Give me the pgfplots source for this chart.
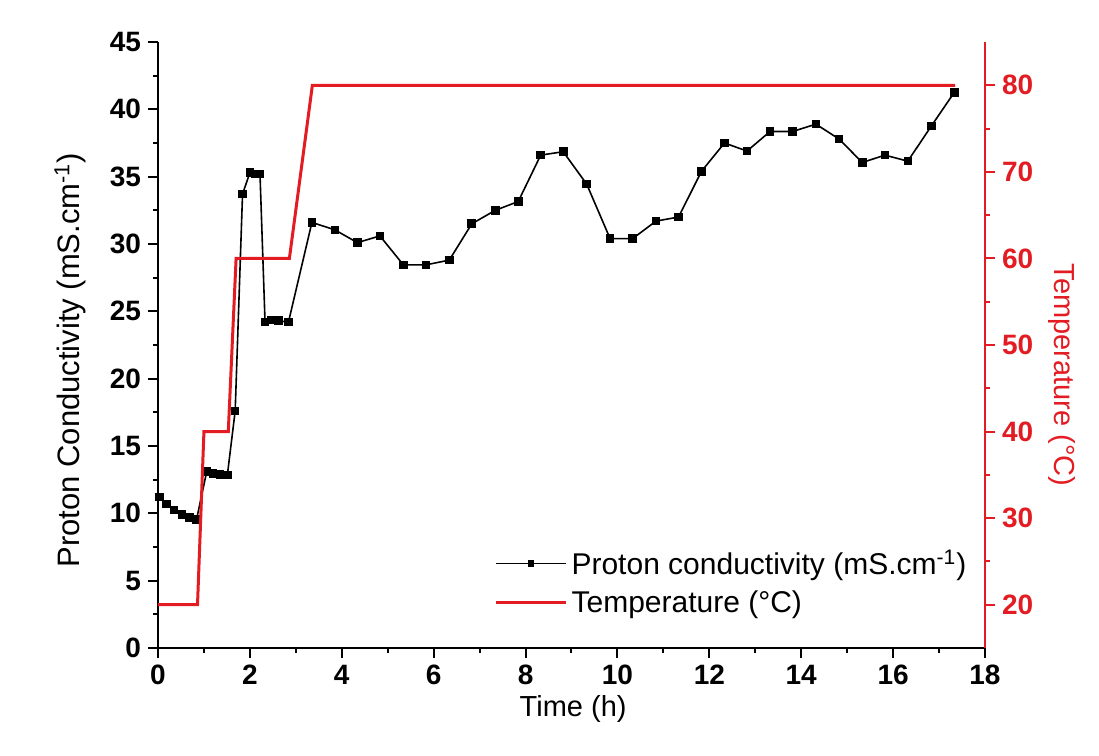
\documentclass[border=0pt]{standalone}
\usepackage{fontspec}
\setmainfont{Liberation Sans}
\usepackage{pgfplots}
\pgfplotsset{compat=1.18}
\definecolor{tred}{RGB}{226,28,34}

\begin{document}
\begin{tikzpicture}
\pgfplotsset{
  every axis/.append style={
    scale only axis, width=413.5pt, height=303pt,
    xmin=0, xmax=18,
    tick align=outside, major tick length=5pt, minor tick length=2.5pt,
    /pgf/number format/assume math mode=true,
    tick label style={font=\fontsize{14}{16}\selectfont\bfseries},
    label style={font=\fontsize{14.5}{17}\selectfont},
    axis line style={line width=1pt},
  },
}
% conductivity
\begin{axis}[name=main,
  axis x line*=bottom, axis y line*=left,
  ymin=0, ymax=45, ytick={0,5,...,45}, xtick={0,2,...,18},
  minor x tick num=1, minor y tick num=1,
  every tick/.style={black, line width=1pt},
  xlabel={Time (h)},
  ylabel={Proton Conductivity (mS.cm\textsuperscript{-1})},
  xlabel style={at={(axis description cs:0.502,-0.1)}, anchor=center},
  ylabel style={at={(axis description cs:-0.106,0.475)}, anchor=center,
    font=\fontsize{15.5}{18}\selectfont},
]
\addplot[black, line width=0.8pt, mark=square*, mark size=1.75pt] coordinates {
  (0.03,11.2) (0.19,10.7) (0.35,10.25) (0.52,9.9) (0.68,9.7) (0.84,9.55)
  (1.06,13.1) (1.2,12.95) (1.35,12.9) (1.51,12.85)
  (1.68,17.6) (1.84,33.7) (2.0,35.3) (2.11,35.2) (2.22,35.2)
  (2.33,24.2) (2.47,24.35) (2.62,24.3) (2.84,24.2)
  (3.35,31.6) (3.85,31.05) (4.34,30.1) (4.83,30.6) (5.34,28.45) (5.83,28.45)
  (6.34,28.8) (6.83,31.5) (7.34,32.5) (7.84,33.15) (8.33,36.6) (8.82,36.85)
  (9.33,34.45) (9.84,30.4) (10.33,30.4) (10.84,31.7) (11.33,32.0) (11.83,35.4)
  (12.33,37.5) (12.82,36.9) (13.32,38.35) (13.81,38.35) (14.32,38.9) (14.82,37.8)
  (15.33,36.05) (15.82,36.6) (16.32,36.15) (16.83,38.75) (17.33,41.25)
};
\end{axis}
% temperature
\begin{axis}[
  axis x line=none, axis y line*=right,
  ymin=15, ymax=85, ytick={20,30,...,80}, minor y tick num=1,
  y axis line style={tred, line width=1pt},
  every tick/.style={tred, line width=1pt},
  yticklabel style={tred},
  ylabel={Temperature (°C)},
  ylabel style={tred, rotate=180, at={(axis description cs:1.093,0.45)}, anchor=center},
  legend style={at={(axis description cs:0.99,0.04)}, anchor=south east,
    draw=none, fill=none, font=\fontsize{15}{18}\selectfont,
    row sep=2.5pt, cells={anchor=west}},
  legend image code/.code={\draw[mark repeat=2,mark phase=2,#1]
    plot coordinates {(0pt,0pt) (17.5pt,0pt) (35pt,0pt)};},
]
\addlegendimage{black, line width=0.8pt, mark=square*, mark size=1.2pt}
\addlegendentry{Proton conductivity (mS.cm\textsuperscript{-1})}
\addplot[tred, line width=1.5pt] coordinates {
  (0,20) (0.86,20) (1.0,40) (1.53,40) (1.70,60) (2.86,60) (3.36,80) (17.35,80)
};
\addlegendentry{Temperature (°C)}
\end{axis}
\path ([shift={(-79pt,-54pt)}]main.south west) rectangle ([shift={(57pt,21pt)}]main.north east);
\end{tikzpicture}
\end{document}
